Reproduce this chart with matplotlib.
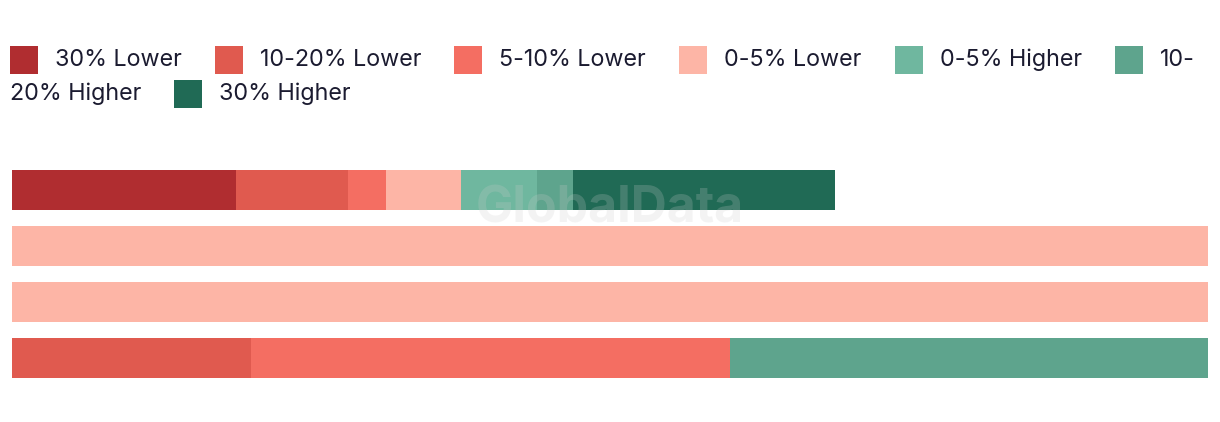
import matplotlib
matplotlib.use("Agg")
import matplotlib.pyplot as plt
from matplotlib.patches import Rectangle
import numpy as np

plt.rcParams["font.family"] = ["Inter", "DejaVu Sans"]

W, H = 1220, 422

series = ["30% Lower", "10-20% Lower", "5-10% Lower", "0-5% Lower",
          "0-5% Higher", "10-20% Higher", "30% Higher"]
colors = ["#b02d30", "#e05a4f", "#f46e62", "#fdb5a6",
          "#6fb79f", "#5ea48d", "#206a55"]

# share per row (%), one list per series, rows top to bottom
lower_30 = [18.7, 0, 0, 0]
lower_10_20 = [9.4, 0, 0, 20]
lower_5_10 = [3.2, 0, 0, 40]
lower_0_5 = [6.2, 100, 100, 0]
higher_0_5 = [6.4, 0, 0, 0]
higher_10_20 = [3.0, 0, 0, 40]
higher_30 = [21.9, 0, 0, 0]

values = [lower_30, lower_10_20, lower_5_10, lower_0_5,
          higher_0_5, higher_10_20, higher_30]

text_color = "#1b1b30"

fig = plt.figure(figsize=(W / 100, H / 100), dpi=100)
fig.patch.set_facecolor("white")

# bar area
ax = fig.add_axes([12 / W, (H - 386) / H, 1196 / W, 224 / H])
rows = np.arange(len(lower_30))
left = np.zeros(len(rows))
for name, vals, c in zip(series, values, colors):
    vals = np.array(vals, dtype=float)
    ax.barh(rows, vals, left=left, height=40 / 56, color=c, linewidth=0)
    left += vals
ax.set_xlim(0, 100)
ax.set_ylim(3.5, -0.5)
ax.axis("off")

# watermark
fig.text(610 / W, (H - 209) / H, "GlobalData", ha="center", va="center",
         fontsize=36, fontweight="bold", color="#cccccc", alpha=0.22,
         zorder=10)

# legend with simple flow layout (pixels from top-left)
renderer = fig.canvas.get_renderer()
fs = 16.8


def put_text(x, y_base, s):
    t = fig.text(x / W, (H - y_base) / H, s, fontsize=fs, color=text_color,
                 ha="left", va="baseline")
    return t.get_window_extent(renderer).width


def text_width(s):
    t = fig.text(0, 0, s, fontsize=fs)
    w = t.get_window_extent(renderer).width
    t.remove()
    return w


x0, xmax = 10, 1212
box, txt_off, gap = 28, 45, 33
line_top, line_h = 46, 34
x, line = x0, 0
for name, c in zip(series, colors):
    tw = text_width(name)
    if x + txt_off + tw > xmax:
        if "-" in name and x + txt_off + text_width(name.split("-")[0] + "-") <= xmax:
            head, tail = name.split("-", 1)
            top = line_top + line * line_h
            fig.add_artist(Rectangle((x / W, (H - top - box) / H), box / W, box / H,
                                     transform=fig.transFigure, color=c, lw=0))
            put_text(x + txt_off, top + 20, head + "-")
            line += 1
            top = line_top + line * line_h
            w = put_text(x0, top + 20, tail)
            x = x0 + w + gap
            continue
        line += 1
        x = x0
    top = line_top + line * line_h
    fig.add_artist(Rectangle((x / W, (H - top - box) / H), box / W, box / H,
                             transform=fig.transFigure, color=c, lw=0))
    w = put_text(x + txt_off, top + 20, name)
    x = x + txt_off + w + gap

fig.savefig("out.png", dpi=100, facecolor="white")
